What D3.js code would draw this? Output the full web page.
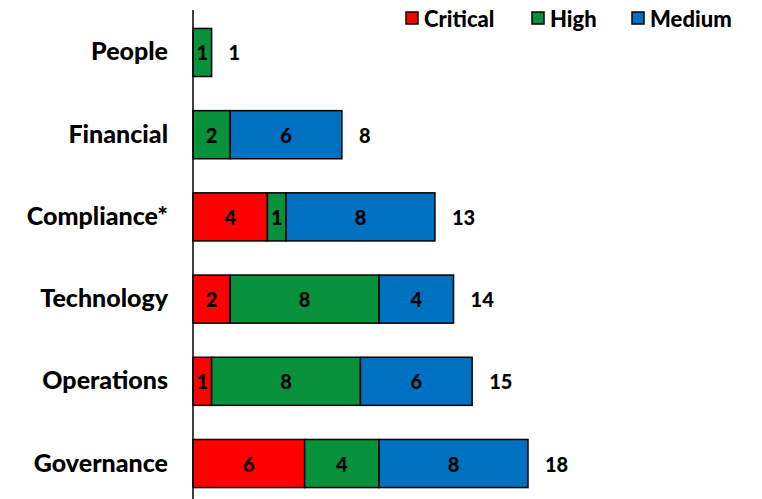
<!DOCTYPE html>
<html>
<head>
<meta charset="utf-8">
<script src="https://cdn.jsdelivr.net/npm/d3@7"></script>
<style>
  body { margin: 0; background: #fff; }
  text { font-family: Lato, "Open Sans", sans-serif; font-weight: 900; fill: #000; }
</style>
</head>
<body>
<svg id="chart" width="762" height="499"></svg>
<script>
// Risk counts per area, split by severity
const categories = ["People", "Financial", "Compliance*", "Technology", "Operations", "Governance"];
const severities = ["Critical", "High", "Medium"];
const critical = [0, 0, 4, 2, 1, 6];
const high     = [1, 2, 1, 8, 8, 4];
const medium   = [0, 6, 8, 4, 6, 8];
const colors   = ["#FF0000", "#07913A", "#0070C0"];

const rows = categories.map((c, i) => ({
  category: c, Critical: critical[i], High: high[i], Medium: medium[i],
  total: critical[i] + high[i] + medium[i]
}));

const svg = d3.select("#chart");
const x0 = 193, pxPerUnit = 18.61;
const x = d3.scaleLinear().domain([0, 18]).range([x0, x0 + 18 * pxPerUnit]);
const y = d3.scaleBand().domain(categories).range([12, 504]).paddingInner(0.415).paddingOuter(0.2);

const color = d3.scaleOrdinal().domain(severities).range(colors);
const stacked = d3.stack().keys(severities)(rows);

const layers = svg.append("g").selectAll("g").data(stacked).join("g")
  .attr("fill", d => color(d.key));

layers.selectAll("rect").data(d => d.filter(s => s[1] - s[0] > 0)).join("rect")
  .attr("x", d => x(d[0]))
  .attr("y", d => y(d.data.category))
  .attr("width", d => x(d[1]) - x(d[0]))
  .attr("height", y.bandwidth())
  .attr("stroke", "#000")
  .attr("stroke-width", 1.5);

// value labels inside segments
layers.selectAll("text").data(d => d.filter(s => s[1] - s[0] > 0)).join("text")
  .attr("x", d => (x(d[0]) + x(d[1])) / 2)
  .attr("y", d => y(d.data.category) + y.bandwidth() / 2)
  .attr("text-anchor", "middle")
  .attr("dominant-baseline", "central")
  .attr("font-size", 20)
  .text(d => d[1] - d[0]);

// totals to the right of each bar
svg.append("g").selectAll("text").data(rows).join("text")
  .attr("x", d => x(d.total) + 17)
  .attr("y", d => y(d.category) + y.bandwidth() / 2)
  .attr("dominant-baseline", "central")
  .attr("font-size", 20)
  .text(d => d.total);

// category axis
const yAxis = svg.append("g").attr("transform", `translate(${x0},0)`)
  .call(d3.axisLeft(y).tickSize(0).tickPadding(25));
yAxis.select(".domain").remove();
yAxis.selectAll("text").attr("font-size", 25).attr("fill", "#000")
  .style("font-family", "Lato, 'Open Sans', sans-serif").style("font-weight", "900");
svg.append("line").attr("x1", x0).attr("x2", x0).attr("y1", 10).attr("y2", 499)
  .attr("stroke", "#000").attr("stroke-width", 1.5);

// legend
const legendX = [406, 532, 632];
const legend = svg.append("g").selectAll("g").data(severities).join("g")
  .attr("transform", (d, i) => `translate(${legendX[i]},12)`);
legend.append("rect").attr("width", 12).attr("height", 12)
  .attr("fill", d => color(d)).attr("stroke", "#000").attr("stroke-width", 1.5);
legend.append("text").attr("x", 18).attr("y", 6).attr("dominant-baseline", "central")
  .attr("font-size", 22).text(d => d);
</script>
</body>
</html>
